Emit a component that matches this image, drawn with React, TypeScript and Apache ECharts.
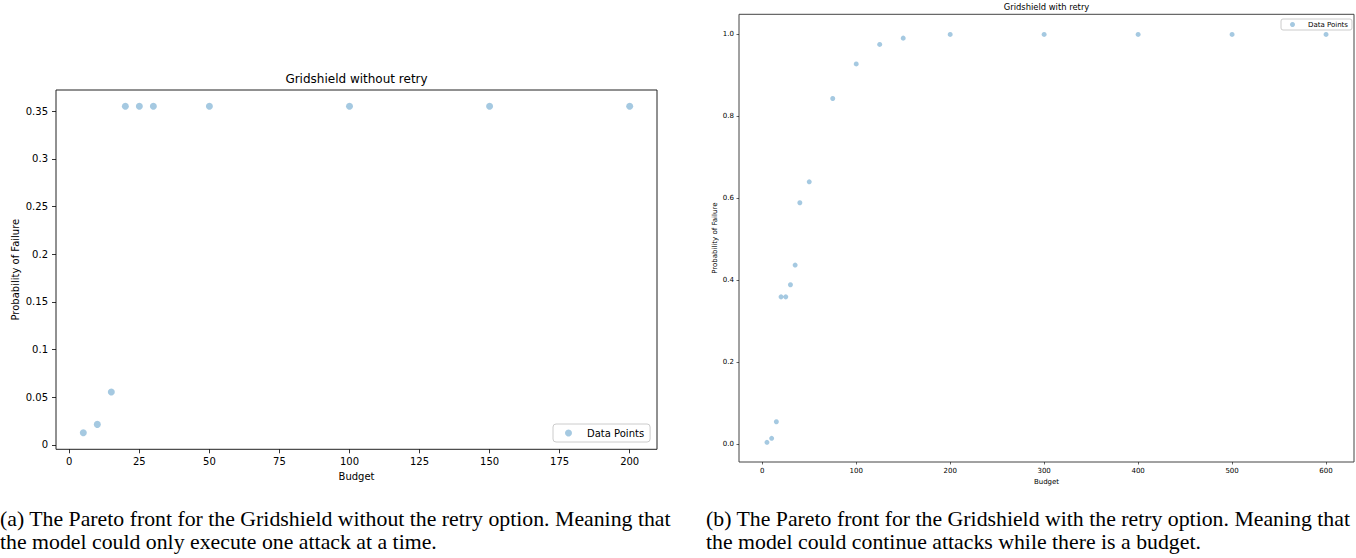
import React, { useEffect, useRef } from "react";
import * as echarts from "echarts";

// Gridshield without retry
const noRetryBudget = [5, 10, 15, 20, 25, 30, 50, 100, 150, 200];
const noRetryFailure = [0.0128, 0.0215, 0.0555, 0.355, 0.355, 0.355, 0.355, 0.355, 0.355, 0.355];
// Gridshield with retry
const retryBudget = [5, 10, 15, 20, 25, 30, 35, 40, 50, 75, 100, 125, 150, 200, 300, 400, 500, 600];
const retryFailure = [0.0037, 0.0134, 0.054, 0.359, 0.359, 0.3885, 0.4366, 0.5888, 0.64, 0.8436, 0.928, 0.9756, 0.991, 1.0, 1.0, 1.0, 1.0, 1.0];

const noRetryXTicks = [0, 25, 50, 75, 100, 125, 150, 175, 200];
const noRetryYTicks = [0, 0.05, 0.1, 0.15, 0.2, 0.25, 0.3, 0.35];
const retryXTicks = [0, 100, 200, 300, 400, 500, 600];
const retryYTicks = [0, 0.2, 0.4, 0.6, 0.8, 1.0];

const titles = ["Gridshield without retry", "Gridshield with retry"];
const xName = "Budget";
const yName = "Probability of Failure";
const legendName = "Data Points";
const captionA = [
  "(a) The Pareto front for the Gridshield without the retry option. Meaning that",
  "the model could only execute one attack at a time.",
];
const captionB = [
  "(b) The Pareto front for the Gridshield with the retry option. Meaning that",
  "the model could continue attacks while there is a budget.",
];

const MPL = "DejaVu Sans";
const CAP = "Liberation Serif";
const pointColor = "rgba(31,119,180,0.5)";

export default function App() {
  const ref = useRef<HTMLDivElement>(null);
  useEffect(() => {
    if (!ref.current) return;
    const chart = echarts.init(ref.current, null, { renderer: "svg" });
    const mkAxis = (fs: number, tickLen: number, tickW: number, margin: number, ticks: number[], fmt?: (v: number) => string) => ({
      axisLine: { show: false, onZero: false },
      splitLine: { show: false },
      axisTick: { show: true, inside: false, length: tickLen, lineStyle: { color: "#000", width: tickW }, customValues: ticks },
      axisLabel: { color: "#000", fontFamily: MPL, fontSize: fs, margin, customValues: ticks, ...(fmt ? { formatter: fmt } : {}) },
      nameTextStyle: { color: "#000", fontFamily: MPL, fontSize: fs },
    });
    const capText = (lines: string[], x: number) =>
      lines.map((t, i) => ({
        type: "text",
        x,
        y: 519 + i * 23,
        scaleX: 1.09,
        style: { text: t, fontFamily: CAP, fontSize: 20, fill: "#000", verticalAlign: "middle" },
      }));
    chart.setOption({
      animation: false,
      backgroundColor: "#fff",
      grid: [
        { left: 56, top: 90, width: 601, height: 359.3, show: true, borderColor: "#222", borderWidth: 1, backgroundColor: "transparent", outerBoundsMode: "none" },
        { left: 739, top: 14.3, width: 615, height: 447.7, show: true, borderColor: "#444", borderWidth: 1, backgroundColor: "transparent", outerBoundsMode: "none" },
      ],
      xAxis: [
        {
          type: "value", gridIndex: 0, min: -4.75, max: 209.75,
          name: xName, nameLocation: "middle", nameGap: 19,
          ...mkAxis(10, 4, 0.8, 7, noRetryXTicks),
        },
        {
          type: "value", gridIndex: 1, min: -24.75, max: 629.75,
          name: xName, nameLocation: "middle", nameGap: 16,
          ...mkAxis(7, 2.5, 0.6, 5, retryXTicks),
        },
      ],
      yAxis: [
        {
          type: "value", gridIndex: 0, min: -0.0046, max: 0.3721,
          name: yName, nameLocation: "middle", nameGap: 36,
          ...mkAxis(10, 4, 0.8, 8, noRetryYTicks),
        },
        {
          type: "value", gridIndex: 1, min: -0.0444, max: 1.0492,
          name: yName, nameLocation: "middle", nameGap: 21,
          ...mkAxis(7, 2.5, 0.6, 5, retryYTicks, (v: number) => v.toFixed(1)),
        },
      ],
      legend: [
        {
          data: [{ name: legendName, icon: "circle" }],
          left: 553, top: 424,
          orient: "vertical",
          itemWidth: 7, itemHeight: 7,
          padding: [4, 6, 4, 12],
          borderColor: "#ccc", borderWidth: 1, borderRadius: 3, backgroundColor: "#fff",
          textStyle: { color: "#000", fontFamily: MPL, fontSize: 10, padding: [0, 0, 0, 10] },
          selectedMode: false,
        },
        {
          data: [{ name: legendName, icon: "circle" }],
          left: 1281, top: 19,
          orient: "vertical",
          itemWidth: 5, itemHeight: 5,
          padding: [2, 4, 2, 9],
          borderColor: "#ccc", borderWidth: 1, borderRadius: 2, backgroundColor: "#fff",
          textStyle: { color: "#000", fontFamily: MPL, fontSize: 7, padding: [0, 0, 0, 8] },
          selectedMode: false,
        },
      ],
      series: [
        {
          name: legendName, type: "scatter", xAxisIndex: 0, yAxisIndex: 0,
          symbolSize: 7, itemStyle: { color: pointColor },
          data: noRetryBudget.map((b, i) => [b, noRetryFailure[i]]),
        },
        {
          name: legendName, type: "scatter", xAxisIndex: 1, yAxisIndex: 1,
          symbolSize: 5, itemStyle: { color: pointColor },
          data: retryBudget.map((b, i) => [b, retryFailure[i]]),
        },
      ],
      graphic: [
        {
          type: "text", x: 356.5, y: 79,
          style: { text: titles[0], fontFamily: MPL, fontSize: 12, fill: "#000", align: "center", verticalAlign: "middle" },
        },
        {
          type: "text", x: 1046.5, y: 7,
          style: { text: titles[1], fontFamily: MPL, fontSize: 8.4, fill: "#000", align: "center", verticalAlign: "middle" },
        },
        ...capText(captionA, 0),
        ...capText(captionB, 706),
      ],
    });
    return () => chart.dispose();
  }, []);
  return <div ref={ref} style={{ position: "absolute", left: 0, top: 0, width: 1356, height: 558 }} />;
}
